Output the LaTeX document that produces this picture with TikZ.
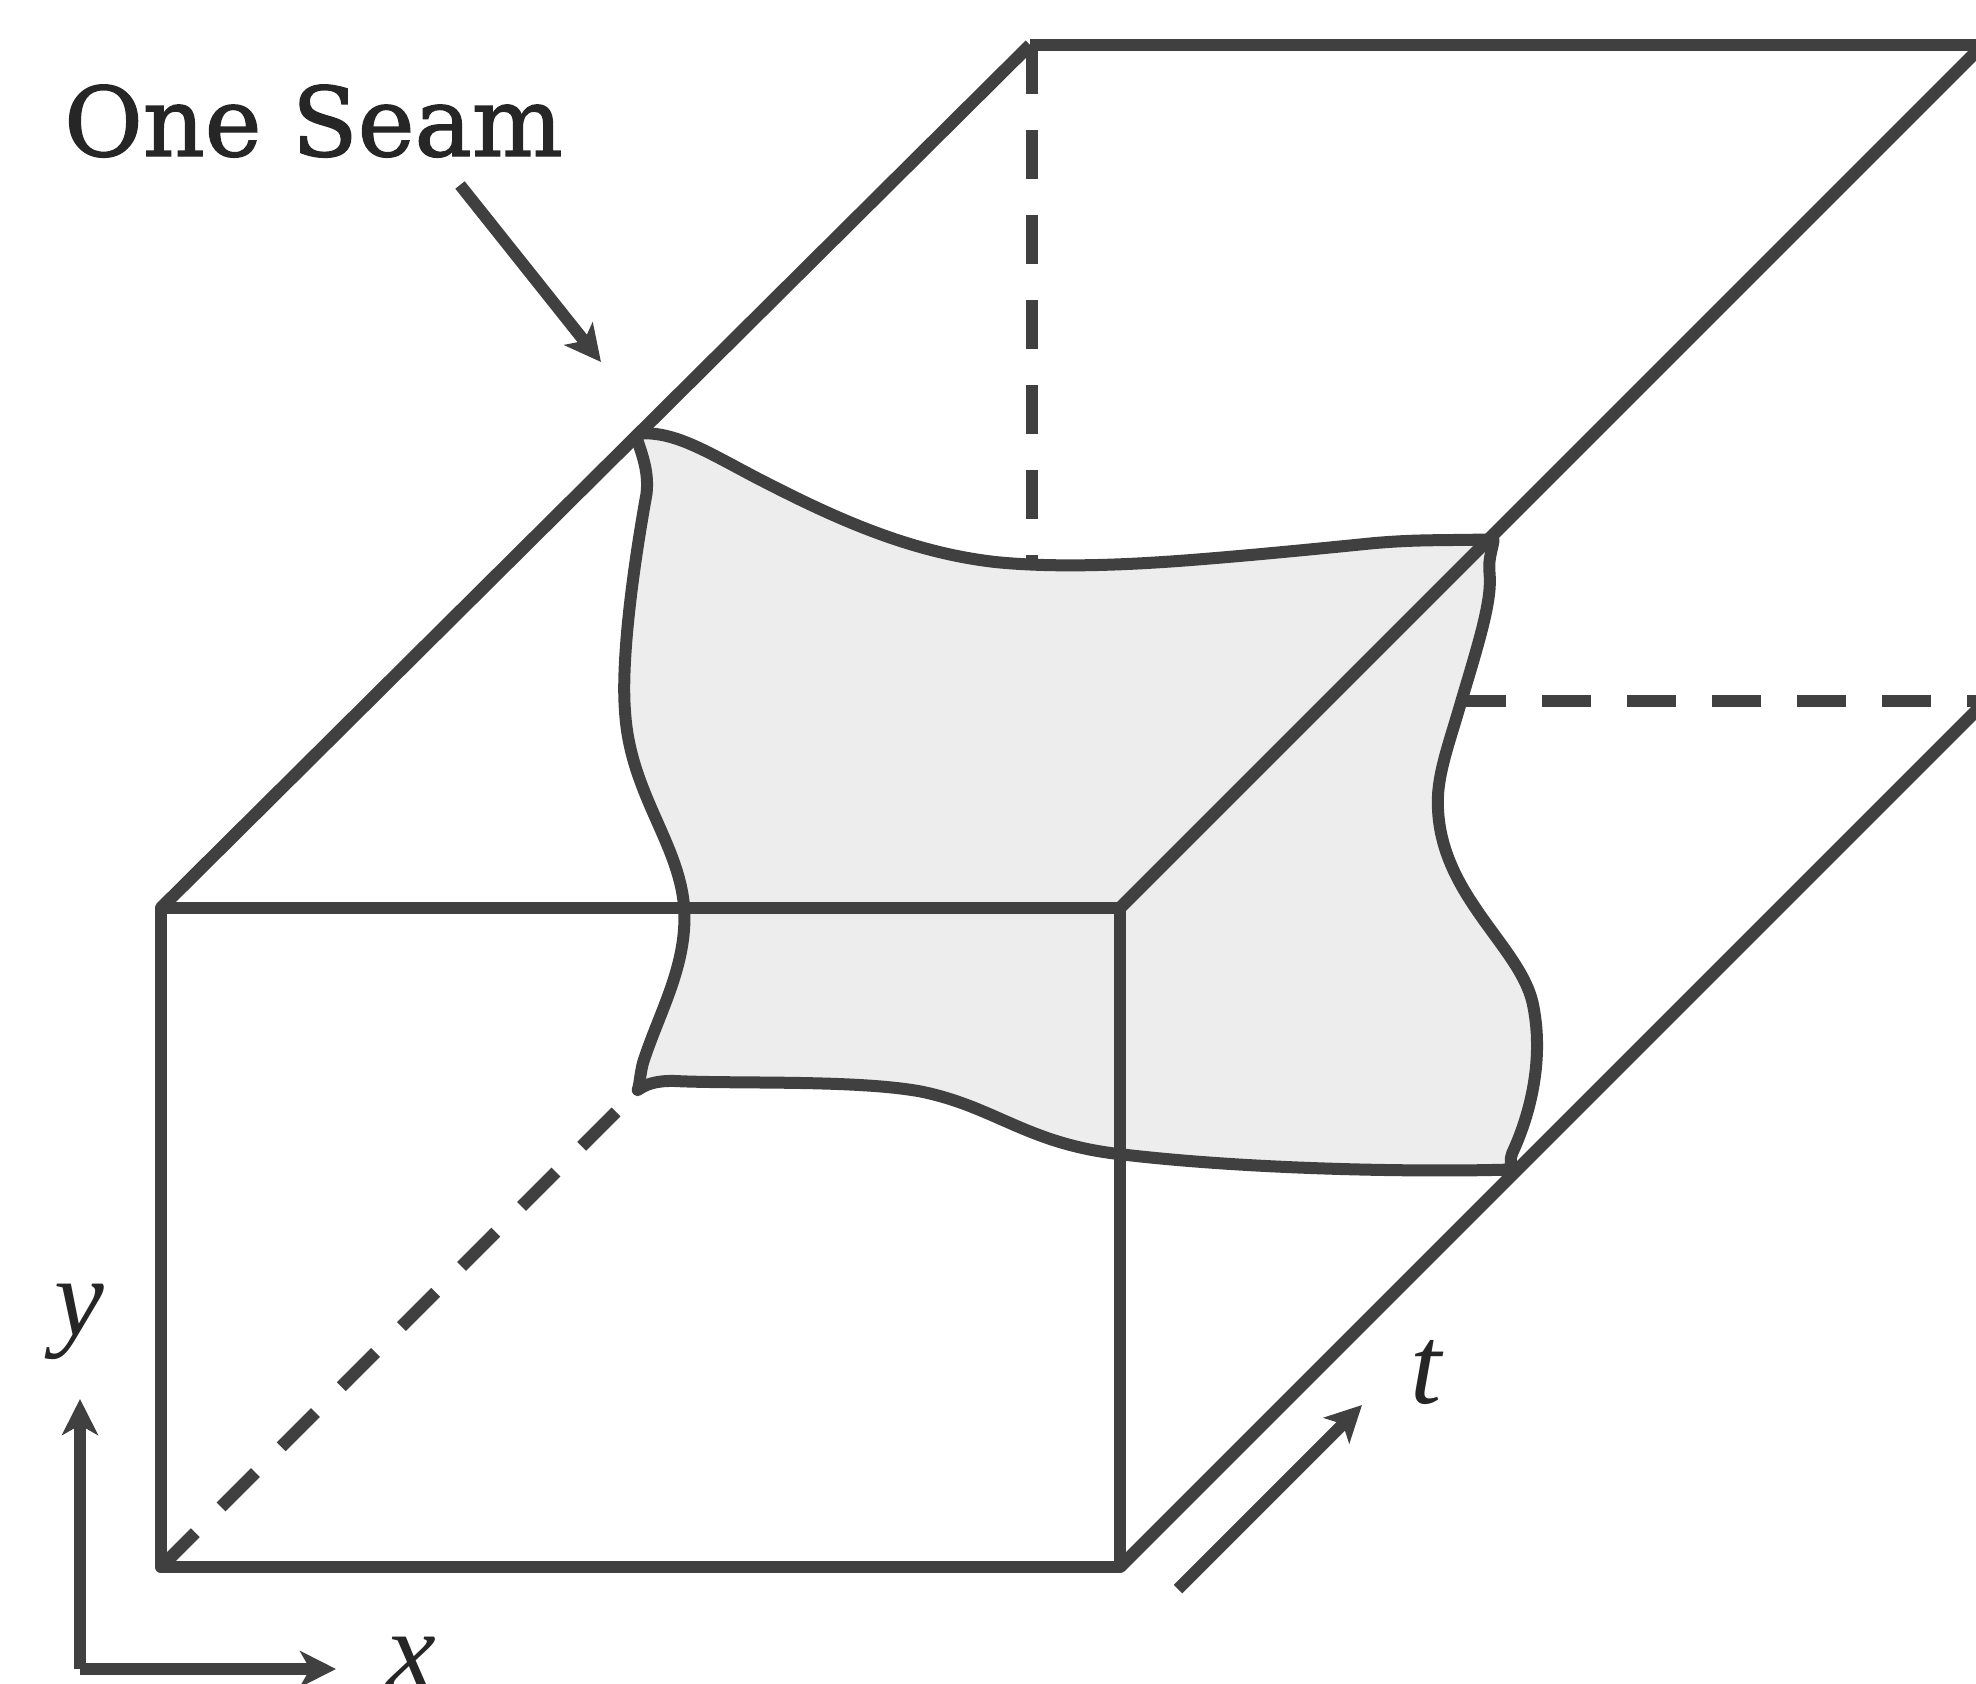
\documentclass[tikz,border=0pt]{standalone}
\usepackage{fontspec}
\setmainfont{Liberation Serif}
\newfontfamily\labelfont[FakeBold=1.5]{DejaVu Serif}
\usetikzlibrary{arrows.meta}
\definecolor{ink}{HTML}{404040}
\definecolor{txt}{HTML}{262626}
\definecolor{seamfill}{HTML}{EDEDED}
\tikzset{
  edge/.style={draw=ink,line width=12.5pt},
  dashedge/.style={draw=ink,line width=12.5pt,dash pattern=on 48.5pt off 36.5pt},
  seamline/.style={draw=ink,fill=seamfill,line width=12pt,line join=round,line cap=round},
  arr/.style={draw=ink,line width=12pt,-{Stealth[length=36pt,width=36pt,inset=9pt,color=ink]}},
  axis/.style={draw=ink,line width=12.5pt,-{Stealth[length=36pt,width=36pt,inset=10pt,color=ink]}},
  mathlabel/.style={anchor=base west,inner sep=0pt,text=txt,font=\fontsize{112}{112}\selectfont\itshape},
  titlelabel/.style={anchor=base west,inner sep=0pt,text=txt,font=\fontsize{96}{96}\labelfont}
}
\begin{document}
\begin{tikzpicture}[x=1pt,y=-1pt]
\clip (0,0) rectangle (1976,1684);
\coordinate (A) at (161,908);
\coordinate (B) at (1120,908);
\coordinate (C) at (1120,1567);
\coordinate (D) at (161,1567);
\coordinate (E) at (1030,45);
\coordinate (F) at (1032,45);
\coordinate (G) at (1990,45);
\coordinate (H) at (1990,38);
\coordinate (I) at (1990,697);
\coordinate (Vend) at (1032,562);
\coordinate (Hstart) at (1457,701);
\coordinate (Hend) at (1990,701);
\coordinate (Dend) at (617,1111);
\coordinate (SA) at (460,185);
\coordinate (SB) at (601,362);
\coordinate (TA) at (1178,1589);
\coordinate (TB) at (1362,1405);
\coordinate (O1) at (80,1669);
\coordinate (O2) at (80,1669);
\coordinate (YT) at (80,1399);
\coordinate (XT) at (336,1669);

\begin{scope}[x=1.2602pt,y=-1.2602pt]
\path[seamline]
  (507,344) .. controls (535,342) and (560,358) .. (600,379)
  .. controls (660,410) and (720,438) .. (790,446)
  .. controls (840,451) and (900,448) .. (950,444)
  .. controls (1000,440) and (1050,435) .. (1090,431)
  .. controls (1125,428) and (1140,429) .. (1185,428)
  -- (1185,430)
  .. controls (1183,440) and (1181,445) .. (1182,455)
  .. controls (1184,475) and (1175,505) .. (1160,555)
  .. controls (1150,590) and (1140,615) .. (1141,640)
  .. controls (1143,710) and (1205,750) .. (1216,795)
  .. controls (1226,840) and (1214,885) .. (1200,915)
  .. controls (1198,920) and (1199,924) .. (1200,928)
  .. controls (1140,930) and (1000,929) .. (890,916)
  .. controls (815,908) and (790,878) .. (730,866)
  .. controls (680,857) and (590,860) .. (540,858)
  .. controls (525,857) and (514,859) .. (506,865)
  .. controls (508,860) and (508,848) .. (512,838)
  .. controls (525,800) and (545,765) .. (543,722)
  .. controls (540,670) and (500,630) .. (496,565)
  .. controls (492,515) and (507,425) .. (513,392)
  .. controls (515,375) and (510,362) .. (505,347)
  -- cycle;
\end{scope}

\draw[dashedge] (F) -- (Vend);
\draw[dashedge] (Hstart) -- (Hend);
\draw[dashedge] (D) -- (Dend);

\draw[edge,line join=round] (A) -- (B) -- (C) -- (D) -- cycle;
\draw[edge] (A) -- (E);
\draw[edge] (E) -- (G);
\draw[edge] (B) -- (H);
\draw[edge] (C) -- (I);

\draw[arr] (SA) -- (SB);
\draw[arr] (TA) -- (TB);
\draw[axis] (O1) -- (YT);
\draw[axis] (O2) -- (XT);

\node[titlelabel] (title) at (64,156) {One Seam};
\node[mathlabel] (ylab) at (54,1335) {y};
\node[mathlabel] (xlab) at (386,1688) {x};
\node[mathlabel] (tlab) at (1410,1403) {t};
\end{tikzpicture}
\end{document}
